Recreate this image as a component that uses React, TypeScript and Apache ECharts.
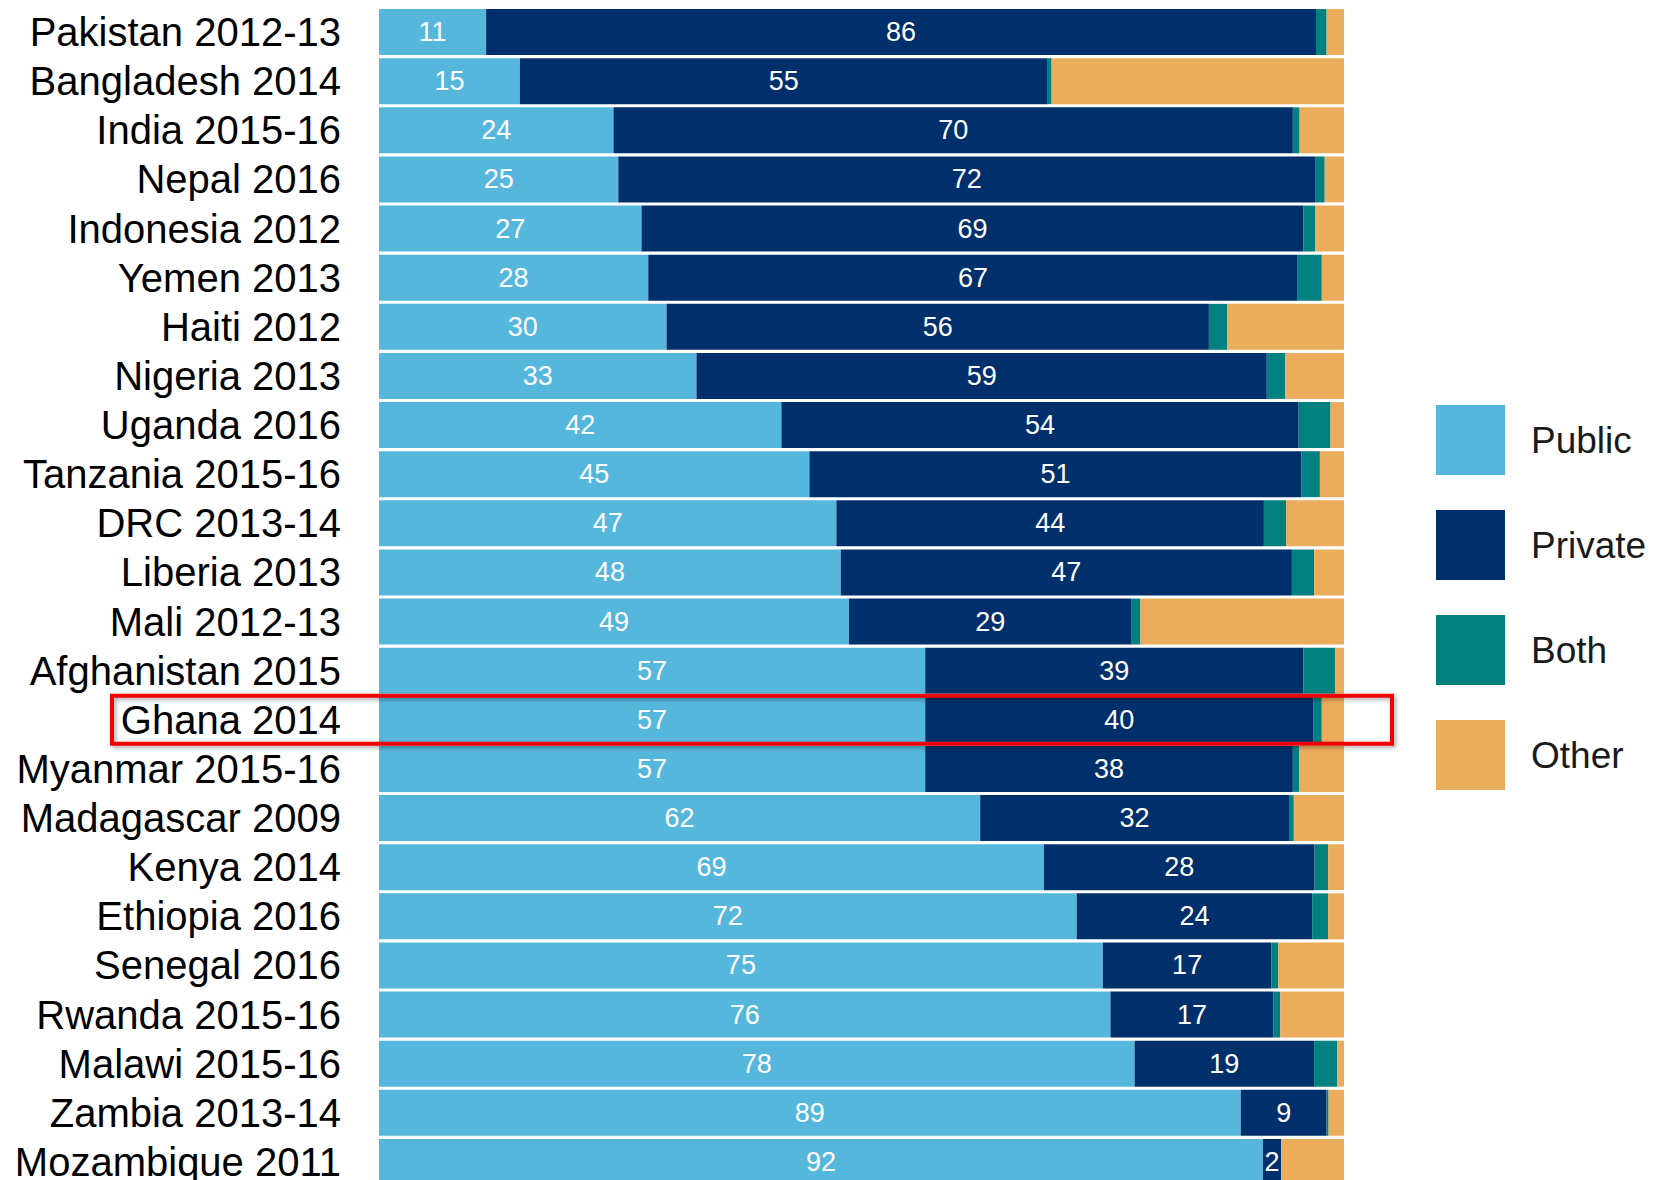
import React, { useEffect, useRef } from "react";
import * as echarts from "echarts";

const categories = [
  "Pakistan 2012-13",
  "Bangladesh 2014",
  "India 2015-16",
  "Nepal 2016",
  "Indonesia 2012",
  "Yemen 2013",
  "Haiti 2012",
  "Nigeria 2013",
  "Uganda 2016",
  "Tanzania 2015-16",
  "DRC 2013-14",
  "Liberia 2013",
  "Mali 2012-13",
  "Afghanistan 2015",
  "Ghana 2014",
  "Myanmar 2015-16",
  "Madagascar 2009",
  "Kenya 2014",
  "Ethiopia 2016",
  "Senegal 2016",
  "Rwanda 2015-16",
  "Malawi 2015-16",
  "Zambia 2013-14",
  "Mozambique 2011",
];

// shares (%); the printed labels are these values rounded
const publicVals = [11.1, 14.6, 24.3, 24.8, 27.2, 27.9, 29.8, 32.9, 41.7, 44.6, 47.4, 47.85, 48.7, 56.6, 56.6, 56.6, 62.3, 68.9, 72.3, 75.0, 75.8, 78.3, 89.3, 91.6];
const privateVals = [86.0, 54.7, 70.4, 72.2, 68.6, 67.3, 56.2, 59.1, 53.6, 51.0, 44.3, 46.75, 29.3, 39.2, 40.2, 38.1, 32.0, 28.05, 24.4, 17.49, 16.9, 18.6, 8.9, 1.9];
const bothVals = [1.1, 0.4, 0.7, 1.0, 1.2, 2.5, 1.9, 1.9, 3.3, 1.9, 2.3, 2.3, 0.9, 3.3, 0.9, 0.66, 0.5, 1.4, 1.65, 0.7, 0.7, 2.4, 0.2, 0];
const otherVals = [1.8, 30.3, 4.6, 2.0, 3.0, 2.3, 12.1, 6.1, 1.4, 2.5, 6.0, 3.1, 21.1, 0.9, 2.3, 4.64, 5.2, 1.65, 1.65, 6.81, 6.6, 0.7, 1.6, 6.5];

const seriesNames = ["Public", "Private", "Both", "Other"];
const seriesColors = ["#56B7DD", "#00306B", "#00807E", "#EBAC5C"];
const highlighted = "Ghana 2014";

export default function App() {
  const ref = useRef<HTMLDivElement>(null);

  useEffect(() => {
    document.body.style.margin = "0";
    document.body.style.overflow = "hidden";
    const chart = echarts.init(ref.current!, null, { renderer: "svg" });
    const valueSets = [publicVals, privateVals, bothVals, otherVals];
    const font = "'Liberation Sans', Arial, sans-serif";

    const series = seriesNames.map((name, i) => ({
      name,
      type: "bar",
      stack: "total",
      data: valueSets[i],
      barCategoryGap: "6.5%",
      itemStyle: { color: seriesColors[i] },
      label: {
        show: i < 2,
        position: "inside",
        color: "#ffffff",
        fontSize: 27,
        fontFamily: font,
        formatter: (p: any) => String(Math.round(p.value)),
      },
    }));

    chart.setOption({
      animation: false,
      backgroundColor: "#ffffff",
      grid: { left: 379, right: 319, top: 7.5, height: 1179, outerBoundsMode: "none", containLabel: false },
      xAxis: { type: "value", min: 0, max: 100, show: false },
      yAxis: {
        type: "category",
        data: categories,
        inverse: true,
        axisLine: { show: false },
        axisTick: { show: false },
        splitLine: { show: false },
        axisLabel: { interval: 0, fontSize: 40, color: "#000000", fontFamily: font, margin: 38 },
      },
      legend: {
        orient: "vertical",
        left: 1431,
        top: 400,
        itemWidth: 69,
        itemHeight: 70,
        itemGap: 35,
        icon: "rect",
        data: seriesNames,
        selectedMode: false,
        textStyle: { fontSize: 37, color: "#1a1a1a", fontFamily: font, padding: [0, 0, 0, 21] },
      },
      series,
    });

    const cy = chart.convertToPixel({ yAxisIndex: 0 }, highlighted) as number;
    chart.setOption({
      graphic: [
        {
          type: "rect",
          z: 100,
          shape: { x: 112, y: cy - 24, width: 1280, height: 48 },
          style: {
            fill: "none",
            stroke: "#F00000",
            lineWidth: 4,
            shadowBlur: 4,
            shadowColor: "rgba(0,0,0,0.35)",
            shadowOffsetX: 2,
            shadowOffsetY: 2,
          },
        },
      ],
    });

    return () => chart.dispose();
  }, []);

  return <div ref={ref} style={{ width: 1663, height: 1180 }} />;
}
